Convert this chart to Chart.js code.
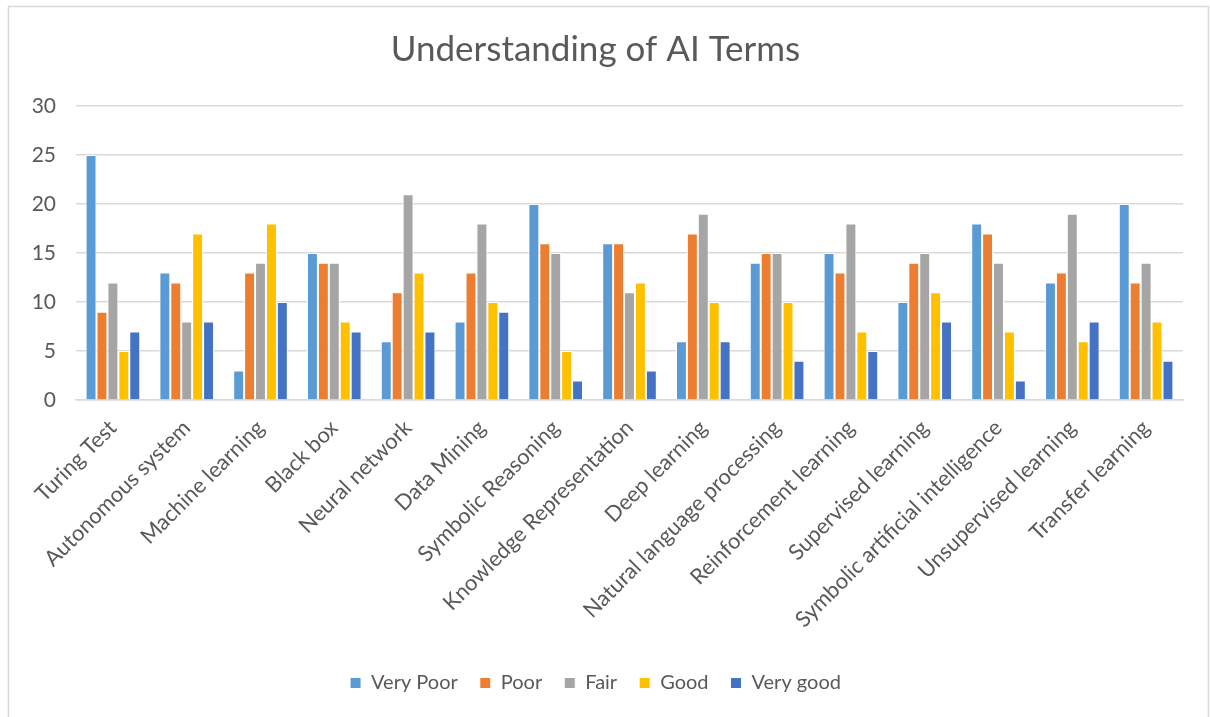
<!DOCTYPE html>
<html>
<head>
<meta charset="utf-8">
<script src="https://cdn.jsdelivr.net/npm/chart.js@4/dist/chart.umd.min.js"></script>
<style>
  html, body { margin: 0; padding: 0; background: #fff; }
  #wrap { width: 1210px; height: 717px; position: relative; }
</style>
</head>
<body>
<div id="wrap"><canvas id="c" width="1210" height="717"></canvas></div>
<script>
const categories = ["Turing Test", "Autonomous system", "Machine learning", "Black box", "Neural network", "Data Mining", "Symbolic Reasoning", "Knowledge Representation", "Deep learning", "Natural language processing", "Reinforcement learning", "Supervised learning", "Symbolic artificial intelligence", "Unsupervised learning", "Transfer learning"];
const veryPoor = [25, 13, 3, 15, 6, 8, 20, 16, 6, 14, 15, 10, 18, 12, 20];
const poor     = [9, 12, 13, 14, 11, 13, 16, 16, 17, 15, 13, 14, 17, 13, 12];
const fair     = [12, 8, 14, 14, 21, 18, 15, 11, 19, 15, 18, 15, 14, 19, 14];
const good     = [5, 17, 18, 8, 13, 10, 5, 12, 10, 10, 7, 11, 7, 6, 8];
const veryGood = [7, 8, 10, 7, 7, 9, 2, 3, 6, 4, 5, 8, 2, 8, 4];
const seriesNames = ["Very Poor", "Poor", "Fair", "Good", "Very good"];
const yTicks = [0, 5, 10, 15, 20, 25, 30];

const colors = ["#5B9BD5", "#ED7D31", "#A5A5A5", "#FFC000", "#4472C4"];
const FONT = "Lato, 'Open Sans', sans-serif";
const TXT = "#595959";

const frame = {
  id: 'frame',
  beforeDraw(chart) {
    const ctx = chart.ctx;
    ctx.save();
    ctx.fillStyle = '#fff';
    ctx.fillRect(0, 0, chart.width, chart.height);
    ctx.strokeStyle = '#D9D9D9';
    ctx.lineWidth = 1.5;
    ctx.strokeRect(8.5, 6.5, 1200, 760);
    ctx.restore();
  }
};

const allSeries = [veryPoor, poor, fair, good, veryGood];
new Chart(document.getElementById('c'), {
  type: 'bar',
  data: {
    labels: categories,
    datasets: allSeries.map((d, i) => ({
      label: seriesNames[i],
      data: d,
      backgroundColor: colors[i],
      borderColor: '#ffffff',
      borderWidth: 1,
      barPercentage: 1.0,
      categoryPercentage: 0.74
    }))
  },
  options: {
    responsive: false,
    animation: false,
    layout: { padding: { left: 8, right: 27, top: 0, bottom: 14 } },
    plugins: {
      title: {
        display: true,
        text: 'Understanding of AI Terms',
        color: TXT,
        font: { family: FONT, size: 35, weight: 'normal' },
        padding: { top: 29, bottom: 35 }
      },
      legend: {
        position: 'bottom',
        labels: {
          color: TXT,
          font: { family: FONT, size: 20 },
          boxWidth: 11,
          boxHeight: 11,
          padding: 22
        }
      },
      tooltip: { enabled: false }
    },
    scales: {
      x: {
        grid: { display: false, drawTicks: false },
        border: { color: '#D9D9D9', width: 1.5 },
        ticks: {
          color: TXT,
          font: { family: FONT, size: 21.8 },
          maxRotation: 45,
          minRotation: 45,
          autoSkip: false,
          padding: 15
        },
        afterFit(scale) { scale.height = 251; }
      },
      y: {
        min: 0,
        max: 30,
        afterBuildTicks(scale) { scale.ticks = yTicks.map(v => ({ value: v })); },
        grid: { color: '#D9D9D9', lineWidth: 1.5, drawTicks: false },
        border: { display: false },
        ticks: {
          color: TXT,
          font: { family: FONT, size: 21 },
          padding: 20
        },
        afterFit(scale) { scale.width = 68; }
      }
    }
  },
  plugins: [frame]
});
</script>
</body>
</html>
